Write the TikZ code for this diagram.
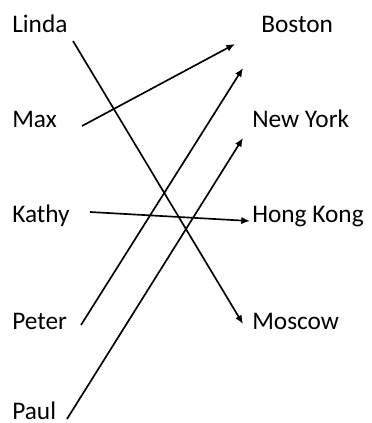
\documentclass[tikz,border=0pt]{standalone}
\usepackage{fontspec}
\setmainfont{Carlito}
\usetikzlibrary{arrows.meta}
\begin{document}
\begin{tikzpicture}[x=0.75pt,y=-0.75pt,
  lbl/.style={anchor=base west,inner sep=0pt,font=\fontsize{19pt}{22pt}\selectfont},
  link/.style={line width=1.25pt,-{Latex[length=6.5pt,width=5.5pt]}}]
\useasboundingbox (0,0) rectangle (371,423);
\node[lbl] (linda) at (12,33) {Linda};
\node[lbl] (max) at (12,128) {Max};
\node[lbl] (kathy) at (12,223) {Kathy};
\node[lbl] (peter) at (12,329) {Peter};
\node[lbl] (paul) at (12,419) {Paul};
\node[lbl] (boston) at (261,33) {Boston};
\node[lbl] (newyork) at (252,128) {New York};
\node[lbl] (hongkong) at (252,223) {Hong Kong};
\node[lbl] (moscow) at (252,329) {Moscow};
\coordinate (lindaS) at (73,41);
\coordinate (maxS) at (82,126);
\coordinate (kathyS) at (90,212);
\coordinate (peterS) at (81,325);
\coordinate (paulS) at (67,419);
\coordinate (bostonE) at (235,44);
\coordinate (nyE1) at (243,68);
\coordinate (nyE2) at (243,138);
\coordinate (hkE) at (250,221);
\coordinate (moscowE) at (243,324);
\draw[link] (lindaS) -- (moscowE);
\draw[link] (maxS) -- (bostonE);
\draw[link] (kathyS) -- (hkE);
\draw[link] (peterS) -- (nyE1);
\draw[link] (paulS) -- (nyE2);
\end{tikzpicture}
\end{document}
